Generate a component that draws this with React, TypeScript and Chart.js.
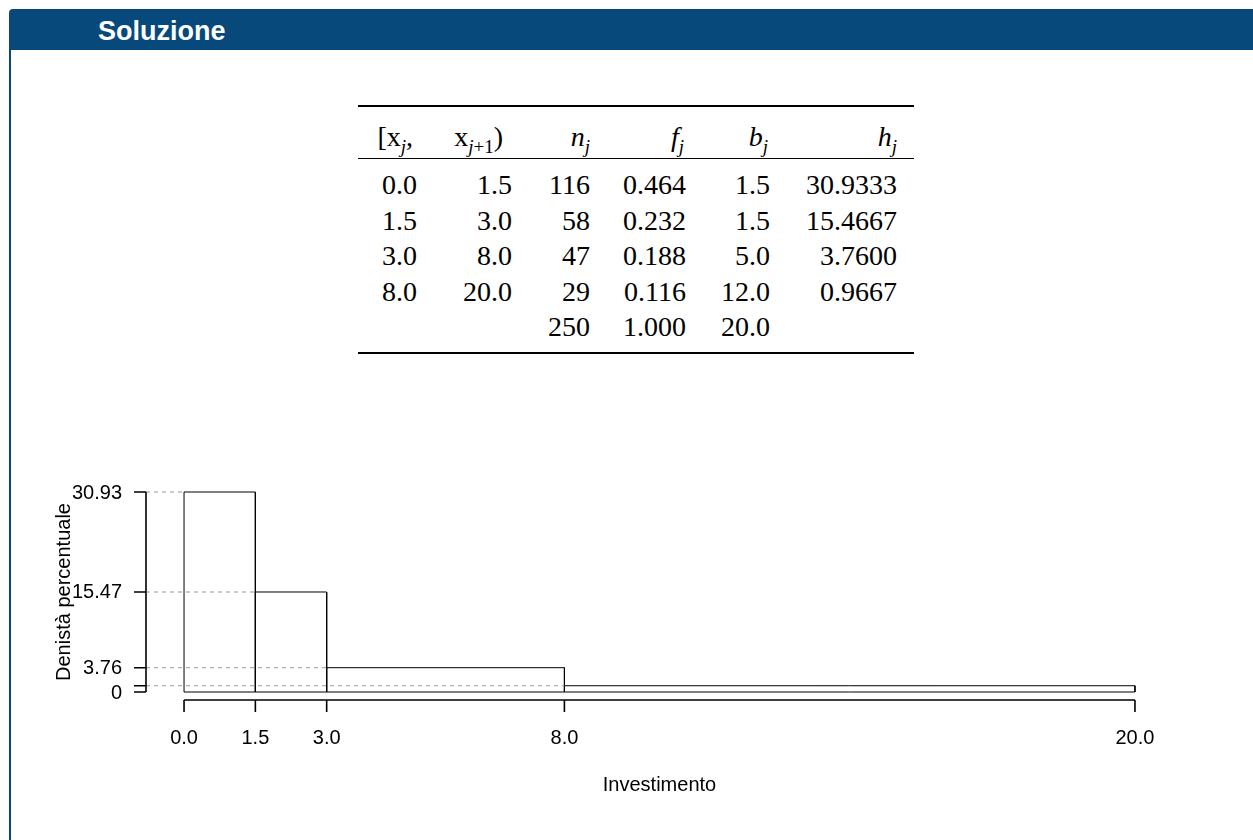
import React, { useEffect, useRef } from "react";
import { Chart, registerables } from "chart.js";

Chart.register(...registerables);

// ---- data ----
const lowerBounds = [0.0, 1.5, 3.0, 8.0];
const upperBounds = [1.5, 3.0, 8.0, 20.0];
const counts = [116, 58, 47, 29];
const relFreq = [0.464, 0.232, 0.188, 0.116];
const classWidths = [1.5, 1.5, 5.0, 12.0];
const densities = [30.9333, 15.4667, 3.76, 0.9667];
const totalCount = 250;
const totalFreq = 1.0;
const totalWidth = 20.0;

const xTickValues = [0, 1.5, 3, 8, 20];
const xTickLabels = ["0.0", "1.5", "3.0", "8.0", "20.0"];
const yTickValues = [0, 0.9667, 3.76, 15.47, 30.93];
const yTickLabels = ["0", "", "3.76", "15.47", "30.93"];

const xTitle = "Investimento";
const yTitle = "Denistà percentuale";
const slideTitle = "Soluzione";

// R-style axis extension (4%)
const X_MIN = 0 - 0.04 * 20;
const X_MAX = 20 + 0.04 * 20;
const Y_MIN = 0 - 0.04 * densities[0];
const Y_MAX = densities[0] + 0.04 * densities[0];

const SANS = '"Liberation Sans", Arial, sans-serif';
const SERIF = '"Liberation Serif", "Times New Roman", serif';

const axesPlugin = {
  id: "rAxes",
  afterDatasetsDraw(chart: any) {
    const ctx = chart.ctx;
    const xs = chart.scales.x;
    const ys = chart.scales.y;
    const ax = xs.left;
    const ay = ys.bottom;
    ctx.save();
    ctx.strokeStyle = "#000";
    ctx.lineWidth = 1.6;
    // y axis
    ctx.beginPath();
    ctx.moveTo(ax, ys.getPixelForValue(yTickValues[0]));
    ctx.lineTo(ax, ys.getPixelForValue(yTickValues[yTickValues.length - 1]));
    yTickValues.forEach((v) => {
      const py = ys.getPixelForValue(v);
      ctx.moveTo(ax - 12, py);
      ctx.lineTo(ax, py);
    });
    ctx.stroke();
    // x axis
    ctx.beginPath();
    ctx.moveTo(xs.getPixelForValue(xTickValues[0]), ay);
    ctx.lineTo(xs.getPixelForValue(xTickValues[xTickValues.length - 1]), ay);
    xTickValues.forEach((v) => {
      const px = xs.getPixelForValue(v);
      ctx.moveTo(px, ay);
      ctx.lineTo(px, ay + 12);
    });
    ctx.stroke();

    ctx.fillStyle = "#000";
    ctx.font = `20px ${SANS}`;
    ctx.textAlign = "right";
    ctx.textBaseline = "middle";
    yTickValues.forEach((v, i) => {
      if (yTickLabels[i]) ctx.fillText(yTickLabels[i], ax - 24, ys.getPixelForValue(v) + 1);
    });
    ctx.textAlign = "center";
    xTickValues.forEach((v, i) => {
      ctx.fillText(xTickLabels[i], xs.getPixelForValue(v), ay + 38);
    });
    ctx.fillText(xTitle, (xs.left + xs.right) / 2, ay + 85);
    ctx.save();
    ctx.translate(ax - 82, (ys.top + ys.bottom) / 2);
    ctx.rotate(-Math.PI / 2);
    ctx.fillText(yTitle, 0, 0);
    ctx.restore();
    ctx.restore();
  },
};

function Histogram() {
  const ref = useRef<HTMLCanvasElement | null>(null);
  useEffect(() => {
    if (!ref.current) return;
    const bars = lowerBounds.map((lo, i) => ({
      data: [
        { x: lo, y: 0 },
        { x: lo, y: densities[i] },
        { x: upperBounds[i], y: densities[i] },
        { x: upperBounds[i], y: 0 },
        { x: lo, y: 0 },
      ],
      showLine: true,
      borderColor: "#000",
      borderWidth: 1,
      pointRadius: 0,
      fill: false,
      tension: 0,
    }));
    const guides = lowerBounds.map((lo, i) => ({
      data: [
        { x: X_MIN, y: densities[i] },
        { x: lo, y: densities[i] },
      ],
      showLine: true,
      borderColor: "#9a9a9a",
      borderWidth: 1,
      borderDash: [4, 4],
      pointRadius: 0,
      fill: false,
    }));
    const chart = new Chart(ref.current, {
      type: "scatter",
      data: { datasets: [...guides, ...bars] as any },
      options: {
        responsive: false,
        animation: false,
        events: [],
        layout: { padding: { left: 146, right: 80, top: 64, bottom: 120 } },
        plugins: { legend: { display: false }, tooltip: { enabled: false } },
        scales: {
          x: { type: "linear", min: X_MIN, max: X_MAX, display: false },
          y: { type: "linear", min: Y_MIN, max: Y_MAX, display: false },
        },
      },
      plugins: [axesPlugin],
    });
    return () => chart.destroy();
  }, []);
  return (
    <canvas
      ref={ref}
      width={1253}
      height={400}
      style={{ position: "absolute", left: 0, top: 420, width: 1253, height: 400 }}
    />
  );
}

const sub = (t: string) => (
  <span style={{ fontSize: 19, fontStyle: "italic", position: "relative", top: 7 }}>{t}</span>
);
const subMix = (
  <span style={{ fontSize: 19, position: "relative", top: 7 }}>
    <i>j</i>+1
  </span>
);

export default function App() {
  const colRight = [417, 512, 590, 686, 770, 897];
  const headRight = [413, 503, 590, 684, 768, 897];
  const headerCenter = 137;
  const firstRow = 185;
  const rowStep = 35.5;
  const lh = 30;

  const headers = [
    <span>[x{sub("j")},</span>,
    <span>x{subMix})</span>,
    <span><i>n</i>{sub("j")}</span>,
    <span><i>f</i>{sub("j")}</span>,
    <span><i>b</i>{sub("j")}</span>,
    <span><i>h</i>{sub("j")}</span>,
  ];

  const rows: string[][] = lowerBounds.map((lo, i) => [
    lo.toFixed(1),
    upperBounds[i].toFixed(1),
    String(counts[i]),
    relFreq[i].toFixed(3),
    classWidths[i].toFixed(1),
    densities[i].toFixed(4),
  ]);
  rows.push(["", "", String(totalCount), totalFreq.toFixed(3), totalWidth.toFixed(1), ""]);

  const cell = (content: any, right: number, center: number, key: string) => (
    <div
      key={key}
      style={{
        position: "absolute",
        left: right - 200,
        width: 200,
        top: center - lh / 2,
        height: lh,
        lineHeight: `${lh}px`,
        textAlign: "right",
        fontFamily: SERIF,
        fontSize: 28,
        color: "#000",
        whiteSpace: "nowrap",
      }}
    >
      {content}
    </div>
  );

  return (
    <div
      style={{
        position: "absolute",
        left: 0,
        top: 0,
        width: 1253,
        height: 840,
        overflow: "hidden",
        background: "#fff",
      }}
    >
      {/* slide frame */}
      <div
        style={{
          position: "absolute",
          left: 9,
          top: 9,
          width: 1244,
          height: 41,
          background: "#08497b",
          borderTopLeftRadius: 4,
        }}
      />
      <div
        style={{
          position: "absolute",
          left: 9,
          top: 50,
          width: 2,
          height: 790,
          background: "#08497b",
        }}
      />
      <div
        style={{
          position: "absolute",
          left: 98,
          top: 9,
          height: 41,
          lineHeight: "44px",
          color: "#fff",
          fontFamily: SANS,
          fontWeight: "bold",
          fontSize: 27,
        }}
      >
        {slideTitle}
      </div>

      {/* table rules */}
      <div style={{ position: "absolute", left: 358, top: 105, width: 556, height: 2, background: "#000" }} />
      <div style={{ position: "absolute", left: 358, top: 158, width: 556, height: 1, background: "#000" }} />
      <div style={{ position: "absolute", left: 358, top: 352, width: 556, height: 2, background: "#000" }} />

      {headers.map((h, c) => cell(h, headRight[c], headerCenter, `h${c}`))}
      {rows.map((r, ri) =>
        r.map((v, c) => cell(v, colRight[c], firstRow + ri * rowStep, `r${ri}c${c}`))
      )}

      <Histogram />
    </div>
  );
}
